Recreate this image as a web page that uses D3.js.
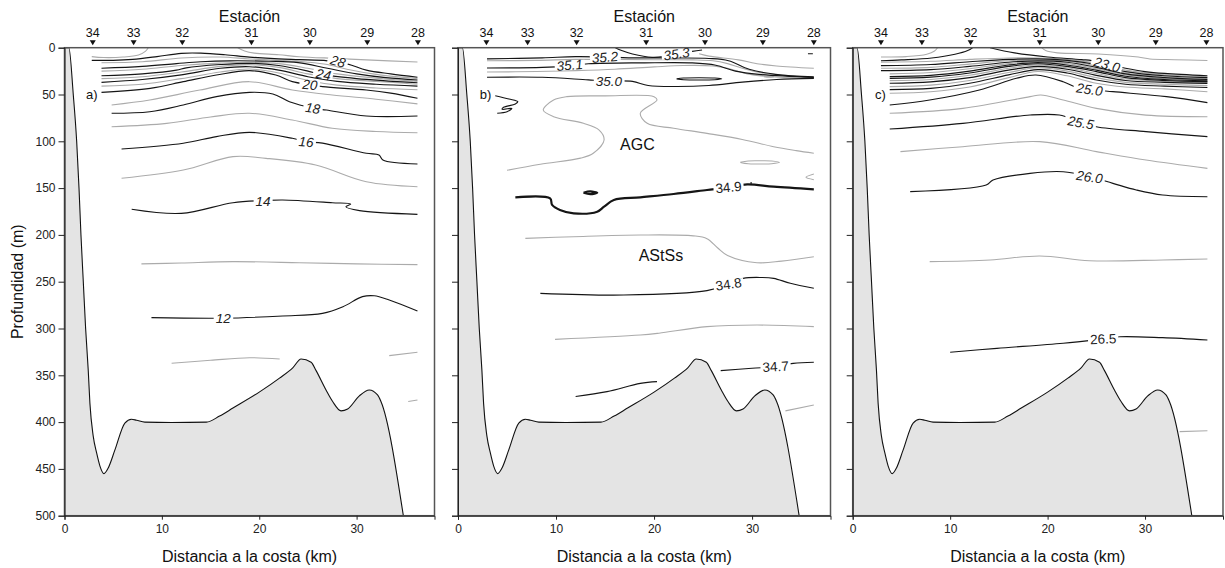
<!DOCTYPE html>
<html><head><meta charset="utf-8">
<script src="https://cdn.jsdelivr.net/npm/d3@7"></script>
<style>
body{margin:0;background:#fff;}
svg{display:block;font-family:"Liberation Sans",Arial,sans-serif;}
</style></head><body>
<svg id="chart" width="1225" height="568"></svg>
<script>
// ---------------- DATA ----------------
const stationNames = ["34","33","32","31","30","29","28"];
const stationKm = [2.9, 7.1, 12.1, 19.2, 25.2, 31.1, 36.3];
const depthTicks = [0,50,100,150,200,250,300,350,400,450,500];
const distTicks = [0,10,20,30];
const panelTags = ["a)","b)","c)"];

// bottom profile [km, depth m]
const bathymetry = [[0,0],[0.45,0],[0.9,50],[1.25,100],[1.49,150],[1.69,200],[1.93,250],[2.17,300],[2.44,345],[2.61,380],[2.95,415],[3.3,433],[3.64,447],[4.05,455],[4.49,449],[5.17,430],[6.2,401],[6.88,397],[7.4,398],[8.25,400],[11,400.5],[14.57,400],[15.93,393.5],[17.3,385],[20,368],[22.08,353],[23.44,342],[24.3,332.6],[25.33,336],[25.84,345],[26.86,365.7],[27.54,378],[28.4,388],[29.08,386],[30.28,372],[31.3,365.7],[32.15,371],[32.5,378],[34.8,500]];

// a) temperature isolines (major = black, minor = grey)
const tempLines = [
 {major:false, pts:[[2.8,9.5],[4,10.5],[6,10],[7.6,7.8],[8.3,4],[8.6,0]]},
 {major:false, pts:[[17.8,0],[18.5,3.5],[19.5,5.8],[22,7.5],[24.1,9.6],[28,11.5],[31,13],[36.25,15.3]]},
 {major:true,  pts:[[2.8,13.5],[5,13.5],[7,12.5],[9.5,9.5],[12,6],[14,5.8],[16.5,7.5],[19,10],[22,12],[24.1,12.8],[27,14],[29.1,17.5],[31,24],[33.5,28],[36.25,31.6]]},
 {major:false, pts:[[3.8,16],[8,15],[12,11],[16,10],[19,12],[22,13.5],[25,15.5],[27,18],[29,23],[32,28.5],[36.25,33]]},
 {major:true,  pts:[[3.8,22],[8,20],[11.5,17],[14,15],[17,14],[21,14.5],[24,16],[27,22],[30,28],[33,32],[36.25,34.5]]},
 {major:false, pts:[[3.8,25],[8,23],[12,19],[16,16.5],[19,15.6],[22,17],[25,22],[28,28],[32,32.5],[36.25,36]]},
 {major:true,  pts:[[3.8,30],[8,28],[11.5,24],[12.5,21.5],[16,18],[19,16.7],[22,19],[25,25],[26.5,28.8],[30,33],[36.25,37.5]]},
 {major:false, pts:[[3.8,33],[8,31],[12,26],[16,20],[19,18.1],[22,21],[25,28],[28,33],[32,36],[36.25,39]]},
 {major:true,  pts:[[3.8,37],[8,34],[12,29],[16,22],[19,20.3],[22,24],[25,31],[28,36],[32,39],[36.25,41]]},
 {major:false, pts:[[3.8,41],[8,39],[12,33],[16,26],[19,22.8],[22,27],[25,35],[28,40],[32,43],[36.25,45]]},
 {major:true,  pts:[[3.8,47.7],[8.8,43.4],[12.2,36.3],[15.6,29.2],[19,24.5],[21.7,29.2],[23.4,36.3],[25.2,39.5],[26.5,41.6],[31,45.2],[33.5,48.5],[36.25,54]]},
 {major:false, pts:[[4.84,61.2],[8.76,55.9],[13.9,45.2],[19,36.3],[23.4,45.2],[27.5,50.5],[32,55],[36.25,60]]},
 {major:true,  pts:[[4.84,70],[8.76,68.4],[12.2,61.2],[15.6,52.3],[19,47.7],[21.4,49.5],[23.1,57.7],[25.5,64.4],[26.9,66.6],[31,73],[36.25,73]]},
 {major:false, pts:[[4.84,84.4],[10.5,80.8],[15,74],[19,70],[23.4,77.2],[27.5,86.1],[32,89.5],[36.25,90.8]]},
 {major:true,  pts:[[5.86,108.2],[12.2,102.1],[15.6,95],[19,90.4],[23.4,96.8],[24.8,100.4],[26.5,102],[31,112.8],[32.3,114.6],[32.7,120],[36.25,124.2]]},
 {major:false, pts:[[5.86,139.5],[12.2,130.7],[17.3,116.4],[20.7,118.2],[25.8,125.3],[31,143.2],[36.25,148.5]]},
 {major:true,  pts:[[6.9,172.6],[12,177],[17.3,165.6],[20.4,163.4],[22.4,162.7],[27.5,165.6],[29.4,167],[28.9,169.9],[30.3,174.1],[36.25,178]]},
 {major:false, pts:[[7.9,231],[12,230],[17.3,228.6],[24.1,229.7],[30,231],[36.25,231.8]]},
 {major:true,  pts:[[8.93,288.4],[16.3,289],[22.4,286.6],[26.5,283.8],[28.6,276.7],[30.6,266],[31.8,265],[33.35,269.5],[36.25,281.3]]},
 {major:false, pts:[[11,337.2],[15,334],[19,331.2],[22.1,332.6]]},
 {major:false, pts:[[33.35,329],[36.25,325.4]]},
 {major:false, pts:[[35.3,378],[36.25,376.4]]}
];
const tempLabels = [
 {t:"28",km:28.1,z:14.5,rot:15,it:true},
 {t:"24",km:26.6,z:28.5,rot:10,it:true},
 {t:"20",km:25.2,z:39.5,rot:5,it:true},
 {t:"18",km:25.5,z:64.5,rot:8,it:true},
 {t:"16",km:24.8,z:100.5,rot:4,it:true},
 {t:"14",km:20.4,z:163.5,rot:0,it:true},
 {t:"12",km:16.3,z:289,rot:0,it:true}
];

// b) salinity isolines
const salLines = [
 {major:true,  pts:[[16.05,0],[16.7,3],[17.8,6.7],[19.8,10.3],[21,9.5],[22.3,6.7],[23.9,3.9],[24.9,2.5]]},
 {major:true,  pts:[[2.96,12],[8.6,10.8],[12,9.6],[15,10],[17.4,10.8],[22.2,11],[25.6,11.5],[27.6,13.9],[29.7,23],[32.4,28.5],[36.3,31.2]]},
 {major:false, pts:[[2.96,14],[8,13.5],[12,12.5],[16,12.5],[20,12.8],[24,13],[26,14],[27.5,17],[29,22],[31,27],[36.3,31.5]]},
 {major:false, pts:[[24.6,6.5],[25.6,9],[28.6,13],[30.7,17.4],[32.5,19.5],[36.3,22]]},
 {major:true,  pts:[[2.96,21.7],[8.6,21],[11.3,19.4],[13.3,17.2],[18.8,16.2],[23.9,16.2],[26.3,18.7],[28.3,25],[30.7,28.5],[36.3,31.8]]},
 {major:false, pts:[[2.96,26],[8,25.5],[12,24.5],[16,23],[20,20.5],[23,19],[26,19.5],[27.5,22],[29.5,28],[32,31],[36.3,32.6]]},
 {major:true,  pts:[[2.96,31.6],[8.6,31.6],[13.3,34.4],[15.4,35.5],[17.8,36],[19.4,40.4],[22.2,41.5],[25.6,40.4],[29,36.8],[32.5,34],[36.3,32.8]]},
 {major:true,  pts:[[22.3,33.3],[23,32.4],[24.6,32.1],[26.2,32.4],[26.9,33.3],[26.2,34.2],[24.6,34.5],[23,34.2],[22.3,33.3]]},
 {major:false, pts:[[31.2,31],[31.7,30.3],[32.2,31],[31.7,31.6],[31.2,31]]},
 {major:true,  pts:[[35.7,6.5],[36.2,6.5]]},
 {major:true,  pts:[[3.8,51.3],[5.2,54.8],[6.1,57.7],[5.85,60.1],[4.65,63.7],[4.5,65.8],[5.5,64.8],[5.0,68.4],[4.0,70]]},
 {major:false, pts:[[5.0,131],[8.4,124.5],[12.5,118],[13.8,112.8],[14.9,98.6],[14.4,88],[12.8,80.8],[9.75,73.7],[8.7,66.6],[9.75,55.9],[11.1,52.3],[15,51.5],[20,52.3],[20.3,55.9],[18.6,70],[19.3,80.8],[22,86],[25.4,91.5],[29,98],[32.2,105.8],[34.5,110],[36.3,112.8]]},
 {major:false, pts:[[28.8,122.5],[29.6,121],[30.8,120.8],[32,121],[32.8,122.5],[32,124],[30.8,124.2],[29.6,124],[28.8,122.5]]},
 {major:false, pts:[[36.3,135],[35.5,138.5],[36.3,141]]},
 {major:true, emph:true, pts:[[5.85,159.9],[9.4,161],[9.6,168],[10.4,173.4],[11.8,177],[14.2,175.2],[14.9,169.9],[15.9,162.7],[18.6,159.9],[22,156.3],[25.4,152],[27.6,149.2],[29.5,146],[32.2,148.5],[36.3,151.3]]},
 {major:true, emph:true, pts:[[12.8,155],[13.5,153.6],[14.2,155],[13.5,156.4],[12.8,155]]},
 {major:true,  pts:[[29.9,143.5],[29.9,146.5]]},
 {major:false, pts:[[6.87,203.7],[11.8,201.9],[18.6,200.1],[24,201],[25.4,204],[26.5,214],[27.5,222],[30.5,229.7],[33,228],[36.3,223.3]]},
 {major:true,  pts:[[8.4,262.4],[16.9,264.2],[25.4,259.6],[27.6,252.5],[29.1,246.4],[31,245.5],[32.2,246.4],[33.9,251.7],[36.3,257]]},
 {major:false, pts:[[9.9,311.6],[18.6,307],[20.5,305],[25.4,298],[30.5,296.3],[36.3,298]]},
 {major:true,  pts:[[12,372.7],[15.2,367.5],[18.6,358.6],[20.3,356.8]]},
 {major:true,  pts:[[26.8,345],[30,342.5],[32.4,340.8],[34.2,337.2],[36.3,336.1]]},
 {major:false, pts:[[33.4,388],[36.3,381.7]]}
];
const salLabels = [
 {t:"35.3",km:22.3,z:6.5,rot:-8,it:true},
 {t:"35.2",km:15,z:10,rot:-5,it:true},
 {t:"35.1",km:11.4,z:18.5,rot:-5,it:true},
 {t:"35.0",km:15.4,z:35.5,rot:0,it:true},
 {t:"34.9",km:27.6,z:149,rot:-5,it:false},
 {t:"34.8",km:27.6,z:252.5,rot:-8,it:false},
 {t:"34.7",km:32.4,z:340.5,rot:-3,it:false}
];
const waterMasses = [{t:"AGC",km:18.3,z:103},{t:"AStSs",km:20.7,z:221.5}];

// c) sigma-t isolines
const sigmaLines = [
 {major:false, pts:[[2.9,10],[5.5,9.5],[7.6,7],[8.4,3.5],[8.7,0]]},
 {major:true,  pts:[[2.9,13.9],[5,13],[8.1,11],[10.5,7],[11.8,3],[12.3,0]]},
 {major:false, pts:[[19.4,0],[19.8,3],[21,5.5],[25.2,6.7],[29.3,10],[30.5,12],[33,12.8],[36.4,13.6]]},
 {major:true,  pts:[[14.1,0],[16.6,5.6],[20,9.9],[23.5,12.7],[25,14.5],[26.2,18],[28,22],[30,25.5],[32,27.5],[36.4,30]]},
 {major:false, pts:[[2.9,15.5],[8,14.5],[12,12.5],[16,11],[19,11],[22,12.5],[25,16.5],[28,24],[32,29],[36.4,31]]},
 {major:true,  pts:[[2.9,19.2],[8,18],[12,15],[16,12.5],[19,12],[22,13.5],[25,18],[28,25.5],[32,30],[36.4,32]]},
 {major:false, pts:[[2.9,22],[8,21],[12,17.5],[16,14],[19,13],[22,14.5],[25,19.5],[28,27],[32,31],[36.4,33]]},
 {major:true,  pts:[[2.9,24.5],[8,23.5],[12,20],[16,15.5],[19,14],[22,15.5],[25,21],[28,28],[32,32],[36.4,34]]},
 {major:false, pts:[[3.8,28],[8,26.5],[12,22.5],[16,17],[19,15],[22,17],[25,22.5],[28,29],[32,33],[36.4,34.7]]},
 {major:true,  pts:[[3.8,30.9],[8,29.5],[12,25],[16,18.5],[19,16],[22,18.5],[25,24],[28,30.5],[32,34],[36.4,35.5]]},
 {major:true,  pts:[[3.8,32.7],[8,31.5],[12,27],[16,20],[19,17.2],[22,20],[25,25.5],[28,32],[32,35],[36.4,36.3]]},
 {major:false, pts:[[3.8,35.2],[8,34],[12,29.5],[16,22],[19,18.5],[22,21.5],[25,27.5],[28,33.5],[32,36],[36.4,37.2]]},
 {major:true,  pts:[[3.8,38],[8,36.5],[12,32],[16,24],[19,20],[22,23],[25,29.5],[28,35],[32,37],[36.4,38.1]]},
 {major:false, pts:[[3.8,41.6],[8,40],[12,35],[16,26.5],[19,21.5],[22,25],[25,32],[28,37],[32,39],[36.4,40.5]]},
 {major:true,  pts:[[3.8,44.8],[8,43.5],[12,38],[16,29],[19,23.5],[22,27],[25,34.5],[28,39],[32,41],[36.4,42.5]]},
 {major:false, pts:[[3.8,48.7],[8,47],[12,42],[16,32],[19,25.5],[22,30],[25,38],[28,42],[32,44],[36.4,47]]},
 {major:true,  pts:[[3.8,61.2],[7.9,55.9],[13,45.2],[16.8,32.7],[18.8,29.2],[21.6,36.3],[23,42.4],[24.3,44.5],[26.7,47],[32.2,52.3],[36.4,58.7]]},
 {major:false, pts:[[3.8,70.1],[11.3,64.8],[18.2,52.3],[19.3,50.5],[21.6,55.9],[25,64.8],[30.1,72],[36.4,73.7]]},
 {major:true,  pts:[[3.8,86.9],[11.3,80.8],[18.2,71.9],[21.2,71.9],[23.3,79],[25,84.4],[30.1,89.7],[36.4,95]]},
 {major:false, pts:[[4.9,111],[11.3,105.8],[19.2,100.4],[25,111],[30.1,120],[36.4,128.9]]},
 {major:true,  pts:[[5.9,153.8],[13.7,146.7],[14.4,141.3],[18.2,134.2],[21.6,132.5],[24.3,137.8],[26.7,144.9],[29.1,152],[31.8,157.4],[36.4,159.2]]},
 {major:false, pts:[[7.9,228.6],[14.1,226.8],[19.2,222.5],[24.3,227.6],[31.8,226.8],[36.4,225.7]]},
 {major:true,  pts:[[10,325.4],[14.8,321.2],[21.6,315.8],[25.7,311],[27.4,308.8],[31.8,309.8],[36.4,312.3]]},
 {major:false, pts:[[33.55,410.2],[36.4,409.2]]}
];
const sigmaLabels = [
 {t:"23.0",km:26.1,z:18,rot:15,it:true},
 {t:"25.0",km:24.3,z:44.5,rot:8,it:true},
 {t:"25.5",km:23.4,z:80,rot:10,it:true},
 {t:"26.0",km:24.3,z:138,rot:8,it:true},
 {t:"26.5",km:25.7,z:311,rot:-2,it:false}
];

// ---------------- DRAWING ----------------
const svg = d3.select("#chart");
const plotTop = 47.7, plotBottom = 515.7;
const panels = [
 {left:64.5, width:370, lines:tempLines, labels:tempLabels, extra:[], showY:true},
 {left:458, width:372.5, lines:salLines, labels:salLabels, extra:waterMasses, showY:false},
 {left:852.7, width:370.3, lines:sigmaLines, labels:sigmaLabels, extra:[], showY:false}
];

panels.forEach((p, i) => {
  const x = d3.scaleLinear().domain([0,38]).range([0,p.width]);
  const y = d3.scaleLinear().domain([0,500]).range([0,plotBottom-plotTop]);
  const g = svg.append("g").attr("transform",`translate(${p.left},${plotTop})`);

  g.append("clipPath").attr("id","clip"+i)
    .append("rect").attr("width",p.width).attr("height",plotBottom-plotTop);
  const inner = g.append("g").attr("clip-path",`url(#clip${i})`);

  const line = d3.line().x(d=>x(d[0])).y(d=>y(d[1])).curve(d3.curveCatmullRom.alpha(0.5));
  const sorted = p.lines.slice().sort((a,b)=>(a.major?1:0)-(b.major?1:0));
  inner.selectAll("path.iso").data(sorted).join("path")
    .attr("class","iso")
    .attr("d",d=>line(d.pts))
    .attr("fill","none")
    .attr("stroke",d=>d.major?"#151515":"#ababab")
    .attr("stroke-width",d=>d.emph?2.2:(d.major?1.15:1.1))
    .attr("stroke-linejoin","round");

  // contour labels on a white patch that breaks the line
  const lab = inner.selectAll("g.lab").data(p.labels).join("g")
    .attr("class","lab")
    .attr("transform",d=>`translate(${x(d.km)},${y(d.z)}) rotate(${d.rot})`);
  const bg = lab.append("rect").attr("fill","#fff");
  const tx = lab.append("text")
    .attr("text-anchor","middle").attr("dy","0.36em")
    .attr("font-size",13.5)
    .attr("font-style",d=>d.it?"italic":"normal")
    .attr("fill","#222")
    .text(d=>d.t);
  tx.each(function(){
    const b = this.getBBox();
    d3.select(this.previousSibling)
      .attr("x",b.x-2).attr("y",-4).attr("width",b.width+4).attr("height",8);
  });

  inner.selectAll("text.wm").data(p.extra).join("text")
    .attr("class","wm")
    .attr("x",d=>x(d.km)).attr("y",d=>y(d.z))
    .attr("text-anchor","middle").attr("dy","0.36em")
    .attr("font-size",16).attr("fill","#111")
    .text(d=>d.t);

  const area = d3.area().x(d=>x(d[0])).y0(y(500)).y1(d=>y(d[1])).curve(d3.curveMonotoneX);
  inner.append("path").datum(bathymetry).attr("d",area).attr("fill","#e4e4e4");
  const bline = d3.line().x(d=>x(d[0])).y(d=>y(d[1])).curve(d3.curveMonotoneX);
  inner.append("path").datum(bathymetry).attr("d",bline)
    .attr("fill","none").attr("stroke","#111").attr("stroke-width",1.1);

  g.append("text").attr("x",x(3.4)).attr("y",y(50)).attr("dy","0.36em")
    .attr("text-anchor","end").attr("font-size",13).attr("fill","#111")
    .text(panelTags[i]);

  g.append("rect").attr("width",p.width).attr("height",plotBottom-plotTop)
    .attr("fill","none").attr("stroke","#555").attr("stroke-width",1.5);

  const ya = d3.axisLeft(y).tickValues(depthTicks).tickSize(6).tickPadding(3);
  if(!p.showY) ya.tickFormat("");
  const yg = g.append("g").call(ya);
  yg.select(".domain").attr("stroke","#222");
  yg.selectAll("line").attr("stroke","#222");
  yg.selectAll("text").attr("font-size",12).attr("fill","#222").attr("font-family","Liberation Sans, Arial, sans-serif");

  const xa = d3.axisBottom(x).tickValues(distTicks).tickSize(4).tickPadding(5).tickFormat(d3.format("d"));
  const xg = g.append("g").attr("transform",`translate(0,${plotBottom-plotTop})`).call(xa);
  xg.select(".domain").attr("stroke","#222");
  xg.selectAll("line").attr("stroke","#222");
  xg.selectAll("text").attr("font-size",12).attr("fill","#222").attr("font-family","Liberation Sans, Arial, sans-serif");

  g.append("text").attr("x",p.width/2).attr("y",562-plotTop)
    .attr("text-anchor","middle").attr("font-size",16).attr("fill","#111")
    .text("Distancia a la costa (km)");

  const st = g.append("g");
  st.selectAll("path").data(stationKm).join("path")
    .attr("d",d=>`M${x(d)-3},${-7.5} L${x(d)+3},${-7.5} L${x(d)},${-2.5} Z`)
    .attr("fill","#111");
  st.selectAll("text").data(stationNames).join("text")
    .attr("x",(d,j)=>x(stationKm[j])).attr("y",-10.5)
    .attr("text-anchor","middle").attr("font-size",12.5).attr("fill","#111")
    .text(d=>d);
  g.append("text").attr("x",p.width/2).attr("y",21.5-plotTop)
    .attr("text-anchor","middle").attr("font-size",16).attr("fill","#111")
    .text("Estación");
});

svg.append("text")
  .attr("transform",`translate(23,${(plotTop+plotBottom)/2}) rotate(-90)`)
  .attr("text-anchor","middle").attr("font-size",16).attr("fill","#111")
  .text("Profundidad (m)");
</script>
</body></html>
